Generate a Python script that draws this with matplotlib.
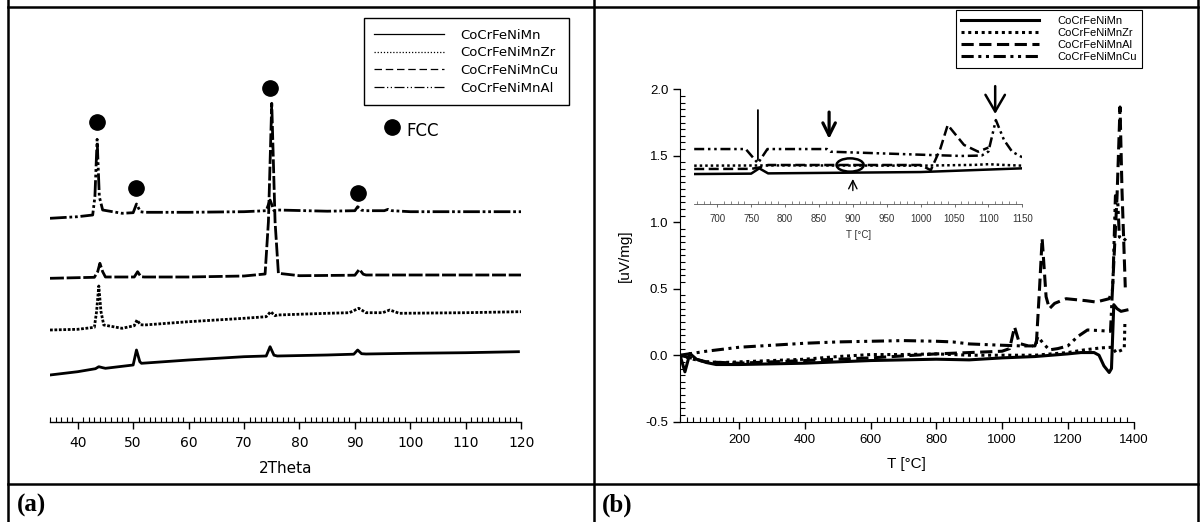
import matplotlib
matplotlib.use('Agg')
import matplotlib.pyplot as plt
from matplotlib import ticker
from matplotlib.lines import Line2D
from matplotlib.patches import Ellipse

# ---- (a) XRD patterns: 2theta positions and intensity (a.u., offset stacks) ----
tt_al = [35, 40, 42.7, 43.1, 43.5, 43.9, 44.5, 48, 50.0, 50.6, 51.3, 52, 60, 70, 74.0, 74.7, 75.4, 76,
         85, 90.0, 90.5, 91.2, 92, 95.3, 96, 96.7, 100, 110, 120]
in_al = [203.4, 205, 206.7, 225, 282.4, 225, 211.7, 208.4, 209, 217.7, 210, 209.4, 209.4, 210, 211, 221.7, 211,
         211.7, 210.5, 211, 215, 211.5, 211, 211, 212.4, 211, 210, 210, 210]

tt_cu = [35, 43, 43.6, 44, 44.5, 45, 50.2, 50.8, 51.4, 52, 60, 70, 73.8, 74.4, 75, 75.6, 76.2, 80,
         90, 90.8, 91.5, 92, 120]
in_cu = [143.4, 144.4, 150, 158.4, 150, 144.7, 144.7, 150, 145, 144.7, 144.7, 145.7, 147.7, 200, 318.4, 200,
         148.4, 146, 146.5, 152.4, 147.5, 146.7, 146.7]

tt_zr = [35, 40, 43, 43.4, 43.8, 44.2, 44.7, 48, 50.2, 50.7, 51.3, 52, 60, 70, 74, 74.8, 75.6, 76, 85, 89,
         90.7, 92, 95, 96.3, 98, 110, 120]
in_zr = [91.7, 92.4, 94.4, 110, 135.7, 110, 96.7, 93.4, 96, 101.7, 97, 96.7, 100, 103.4, 105, 110, 106, 106.7,
         108.4, 109, 113.4, 109, 109, 111.7, 108.4, 109, 110]

tt_mn = [35, 40, 43.2, 43.8, 44.5, 45, 50, 50.6, 51.2, 51.5, 60, 70, 74, 74.7, 75.4, 76, 85, 89.8, 90.5, 91.2,
         92, 100, 110, 119.5]
in_mn = [46.7, 50, 53, 55, 54, 53.4, 56.7, 71.7, 60, 58.4, 61.7, 65, 65.7, 75, 66.5, 65.7, 66.7, 67.5, 71.7,
         68, 67.7, 68.4, 69, 70]

fcc_tt = [43.4, 50.6, 74.6, 90.5]
fcc_in = [300, 233.4, 334, 228.4]

# ---- (b) DSC curves: temperature (C) and signal (uV/mg) ----
t_mn = [20, 35, 50, 70, 100, 130, 200, 300, 400, 500, 600, 700, 800, 900, 1000, 1100, 1150, 1200, 1240,
        1280, 1295, 1310, 1326, 1333, 1340, 1350, 1362, 1380]
s_mn = [0.0, -0.125, 0.013, -0.03, -0.055, -0.07, -0.07, -0.065, -0.06, -0.05, -0.04, -0.035, -0.03,
        -0.035, -0.02, -0.01, 0.0, 0.01, 0.02, 0.02, 0.0, -0.08, -0.13, -0.1, 0.38, 0.35, 0.33, 0.34]

t_zr = [20, 60, 100, 150, 200, 300, 400, 500, 600, 700, 800, 900, 1000, 1100, 1150, 1200, 1250, 1300,
        1335, 1347, 1365, 1372, 1374]
s_zr = [0.0, -0.03, -0.05, -0.055, -0.05, -0.04, -0.03, -0.01, 0.005, 0.005, 0.01, 0.0, 0.0, 0.0, 0.01,
        0.02, 0.04, 0.055, 0.06, 0.02, 0.04, 0.06, 0.26]

t_al = [20, 100, 200, 400, 600, 800, 900, 1000, 1023, 1038, 1053, 1080, 1104, 1114, 1122, 1134, 1144,
        1160, 1195, 1256, 1286, 1326, 1336, 1350, 1359, 1365, 1375]
s_al = [0.0, -0.05, -0.06, -0.04, -0.02, 0.01, 0.02, 0.03, 0.05, 0.213, 0.088, 0.07, 0.07, 0.5, 0.878,
        0.44, 0.35, 0.39, 0.425, 0.41, 0.40, 0.425, 0.49, 1.2, 1.867, 1.24, 0.51]

t_cu = [20, 100, 200, 300, 400, 500, 600, 700, 800, 850, 900, 1000, 1060, 1100, 1109, 1125, 1144, 1170,
        1200, 1230, 1260, 1300, 1330, 1338, 1345, 1352, 1357, 1370, 1378]
s_cu = [0.0, 0.03, 0.06, 0.075, 0.09, 0.1, 0.105, 0.11, 0.105, 0.1, 0.085, 0.075, 0.07, 0.07, 0.14, 0.09,
        0.04, 0.05, 0.07, 0.14, 0.19, 0.185, 0.18, 0.6, 1.2, 1.16, 0.89, 0.86, 0.88]

# inset (zoom 666-1150 C), drawn on the same signal scale
ti_cu = [666, 742, 760, 774, 862, 867, 1015, 1060, 1090, 1100, 1111, 1123, 1135, 1150]
si_cu = [1.549, 1.549, 1.442, 1.549, 1.549, 1.529, 1.504, 1.497, 1.50, 1.53, 1.767, 1.617, 1.529, 1.487]
ti_al = [666, 750, 762, 775, 1000, 1015, 1029, 1040, 1064, 1085, 1100]
si_al = [1.399, 1.40, 1.41, 1.429, 1.429, 1.39, 1.55, 1.730, 1.580, 1.529, 1.56]
ti_zr = [666, 800, 1000, 1080, 1100, 1120, 1150]
si_zr = [1.424, 1.426, 1.424, 1.43, 1.435, 1.43, 1.424]
ti_mn = [666, 750, 762, 775, 1000, 1150]
si_mn = [1.361, 1.364, 1.404, 1.366, 1.376, 1.404]

W, H = 1203, 522


def rect(x0, y0, x1, y1):
    # pixel box (origin top-left) -> figure fraction
    return [x0 / W, 1 - y1 / H, (x1 - x0) / W, (y1 - y0) / H]


fig = plt.figure(figsize=(W / 100, H / 100), dpi=100)

# table frame
bg = fig.add_axes([0, 0, 1, 1], zorder=-1)
bg.set_xlim(0, W)
bg.set_ylim(H, 0)
bg.axis('off')
for x in (8, 593.5, 1198):
    bg.axvline(x, color='black', lw=1.8)
for y in (7, 484):
    bg.axhline(y, xmin=8 / W, xmax=1198 / W, color='black', lw=1.8)
bg.text(17, 505, '(a)', family='Liberation Serif', weight='bold', size=18, va='center')
bg.text(602, 505, '(b)', family='Liberation Serif', weight='bold', size=18, va='center')

# ---------------- panel (a) ----------------
fa = 'DejaVu Sans'
axa = fig.add_axes(rect(50, 8, 521.2, 421.7))
axa.patch.set_visible(False)
axa.set_xlim(35, 120)
axa.set_ylim(0, 413.7)
styles_a = ['-', (0, (1, 0.6)), (0, (5, 1)), (0, (6, 1, 1, 1, 1, 1))]
traces = [(tt_mn, in_mn), (tt_zr, in_zr), (tt_cu, in_cu), (tt_al, in_al)]
for (x, y), ls in zip(traces, styles_a):
    axa.plot(x, y, color='black', lw=2.0, ls=ls)
axa.plot(fcc_tt, fcc_in, 'o', color='black', ms=11)
axa.plot([96.7], [295], 'o', color='black', ms=11)
axa.text(99.2, 291, 'FCC', family=fa, size=12, va='center')
for s in ('left', 'right', 'top'):
    axa.spines[s].set_visible(False)
axa.spines['bottom'].set_linewidth(1)
axa.set_yticks([])
axa.xaxis.set_major_locator(ticker.MultipleLocator(10))
axa.xaxis.set_minor_locator(ticker.MultipleLocator(1))
axa.set_xticks(range(40, 121, 10))
axa.tick_params(axis='x', which='major', direction='out', length=5, width=1, labelsize=10, pad=5)
axa.tick_params(axis='x', which='minor', direction='in', length=3.5, width=0.8)
for lab in axa.get_xticklabels():
    lab.set_family(fa)
axa.set_xlabel('2Theta', family=fa, size=11, labelpad=8)
labels_a = ['CoCrFeNiMn', 'CoCrFeNiMnZr', 'CoCrFeNiMnCu', 'CoCrFeNiMnAl']
handles_a = [Line2D([], [], color='black', lw=0.9, ls=ls) for ls in
             ['-', (0, (1, 1.5)), (0, (6, 3)), (0, (8, 2, 1, 2, 1, 2))]]
leg = axa.legend(handles_a, labels_a, loc='upper left', bbox_to_anchor=(363.6 / W, 1 - 18.3 / H),
                 bbox_transform=fig.transFigure, prop={'family': fa, 'size': 9.5}, frameon=True,
                 fancybox=False, edgecolor='black', framealpha=1, borderpad=0.8, borderaxespad=0,
                 handlelength=5.3, handletextpad=1.2, labelspacing=0.35)
leg.get_frame().set_linewidth(1)

# ---------------- panel (b) ----------------
fb = 'Liberation Sans'
axb = fig.add_axes(rect(680, 89.3, 1133.5, 421.7))
axb.patch.set_visible(False)
axb.set_xlim(20, 1400)
axb.set_ylim(-0.5, 2.0)
styles_b = ['-', (0, (1, 1.2)), (0, (4, 1.8)), (0, (4, 1.5, 1, 1.5, 1, 1.5))]
curves = [(t_mn, s_mn), (t_zr, s_zr), (t_al, s_al), (t_cu, s_cu)]
for (x, y), ls in zip(curves, styles_b):
    axb.plot(x, y, color='black', lw=2.2, ls=ls)
for s in ('right', 'top'):
    axb.spines[s].set_visible(False)
axb.xaxis.set_major_locator(ticker.MultipleLocator(200))
axb.xaxis.set_minor_locator(ticker.MultipleLocator(20))
axb.yaxis.set_major_locator(ticker.MultipleLocator(0.5))
axb.yaxis.set_minor_locator(ticker.MultipleLocator(0.05))
axb.yaxis.set_major_formatter(ticker.FormatStrFormatter('%.1f'))
axb.tick_params(which='major', direction='out', length=5, width=1, labelsize=9.5)
axb.tick_params(which='minor', direction='in', length=3.5, width=0.8)
for lab in axb.get_xticklabels() + axb.get_yticklabels():
    lab.set_family(fb)
axb.set_xlabel('T [°C]', family=fb, size=11, labelpad=8)
axb.set_ylabel('[uV/mg]', family=fb, size=11, labelpad=10)
labels_b = ['CoCrFeNiMn', 'CoCrFeNiMnZr', 'CoCrFeNiMnAl', 'CoCrFeNiMnCu']
handles_b = [Line2D([], [], color='black', lw=2.2, ls=ls) for ls in styles_b]
legb = axb.legend(handles_b, labels_b, loc='upper left', bbox_to_anchor=(955.8 / W, 1 - 10 / H),
                  bbox_transform=fig.transFigure, prop={'family': fb, 'size': 8}, frameon=True,
                  fancybox=False, edgecolor='black', framealpha=1, borderpad=0.5, borderaxespad=0,
                  handlelength=7.0, handletextpad=1.6, labelspacing=0.2)
legb.get_frame().set_linewidth(0.8)

# inset
axi = fig.add_axes(rect(694.2, 70, 1022.3, 204))
axi.patch.set_visible(False)
axi.set_xlim(666, 1150)
axi.set_ylim((355 - 204) / 132.96, (355 - 70) / 132.96)
inset = [(ti_mn, si_mn), (ti_zr, si_zr), (ti_al, si_al), (ti_cu, si_cu)]
for (x, y), ls in zip(inset, styles_b):
    axi.plot(x, y, color='black', lw=1.8, ls=ls)
for s in ('left', 'right', 'top'):
    axi.spines[s].set_visible(False)
axi.spines['bottom'].set_color('#555555')
axi.spines['bottom'].set_linewidth(0.6)
axi.set_yticks([])
axi.xaxis.set_major_locator(ticker.MultipleLocator(50))
axi.xaxis.set_minor_locator(ticker.MultipleLocator(10))
axi.set_xticks(range(700, 1151, 50))
axi.tick_params(axis='x', which='major', direction='out', length=2.5, width=0.6, color='#555555',
                labelsize=7, labelcolor='#333333', pad=5)
axi.tick_params(axis='x', which='minor', direction='in', length=2, width=0.5, color='#555555')
for lab in axi.get_xticklabels():
    lab.set_family(fb)
axi.set_xlabel('T [°C]', family=fb, size=7, color='#333333', labelpad=4)

# inset annotations
axi.annotate('', xy=(760, 1.445), xytext=(760, 1.863),
             arrowprops=dict(arrowstyle='-', color='black', lw=1.3))
axi.annotate('', xy=(865, 1.604), xytext=(865, 1.848),
             arrowprops=dict(arrowstyle='->,head_length=0.9,head_width=0.45', color='black', lw=2.3))
axi.annotate('', xy=(1110, 1.792), xytext=(1110, 2.043),
             arrowprops=dict(arrowstyle='->,head_length=1.2,head_width=0.7', color='black', lw=1.8))
axi.annotate('', xy=(900, 1.345), xytext=(900, 1.216),
             arrowprops=dict(arrowstyle='->,head_length=0.6,head_width=0.3', color='black', lw=1))
axi.add_patch(Ellipse((896, 1.429), 40, 0.1, fill=False, color='black', lw=1.8))

fig.savefig('out.png', dpi=100)
